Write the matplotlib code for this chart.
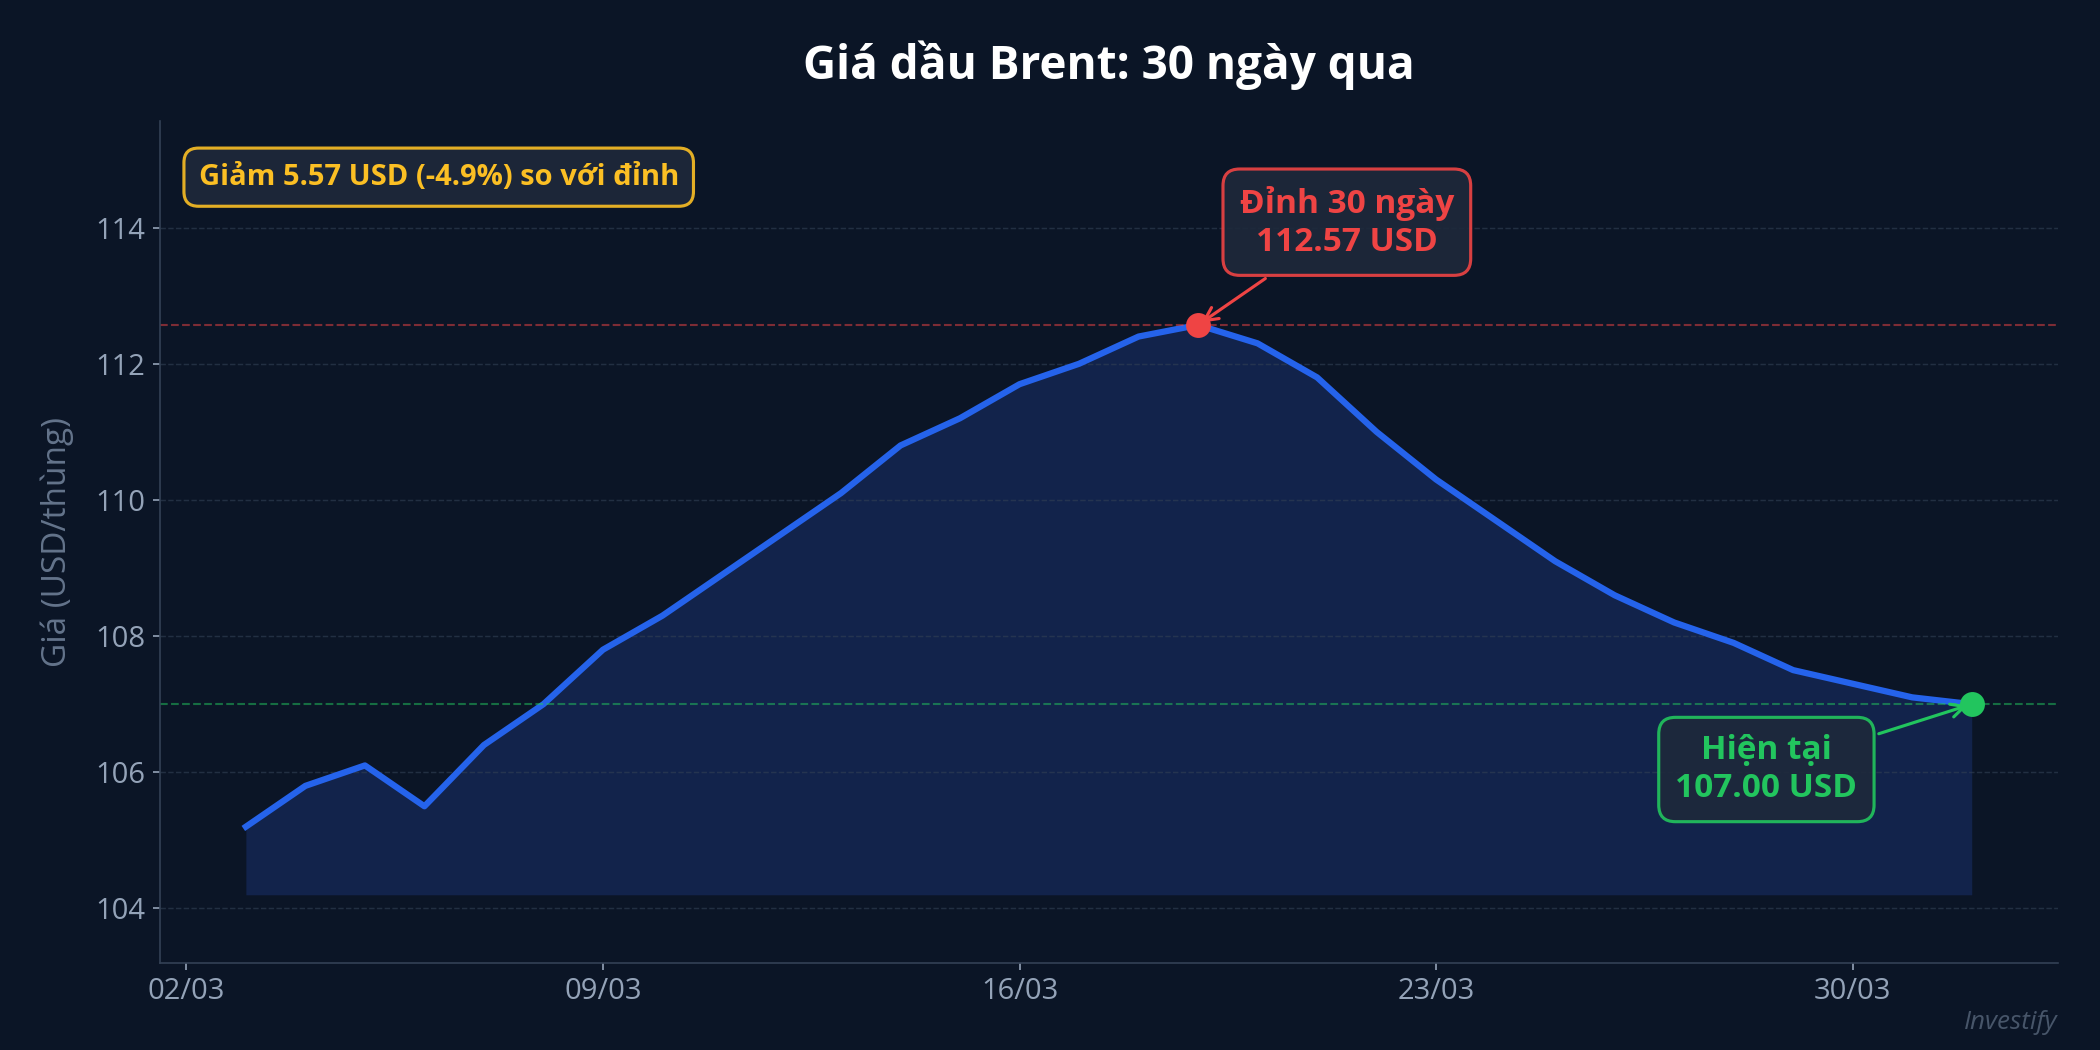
import numpy as np
import pandas as pd
import matplotlib
matplotlib.use("Agg")
import matplotlib.pyplot as plt
import matplotlib.dates as mdates

plt.rcParams['font.family'] = ['Open Sans', 'DejaVu Sans']

# daily Brent prices, 03/03 -> 01/04
dates = pd.date_range("2025-03-03", periods=30, freq="D")
prices = [105.2, 105.8, 106.1, 105.5, 106.4, 107.0, 107.8, 108.3, 108.9, 109.5,
          110.1, 110.8, 111.2, 111.7, 112.0, 112.4, 112.57, 112.3, 111.8, 111.0,
          110.3, 109.7, 109.1, 108.6, 108.2, 107.9, 107.5, 107.3, 107.1, 107.0]
tick_dates = pd.to_datetime(["2025-03-02", "2025-03-09", "2025-03-16", "2025-03-23", "2025-03-30"])

title = "Giá dầu Brent: 30 ngày qua"
ylabel = "Giá (USD/thùng)"
peak_label = "Đỉnh 30 ngày\n112.57 USD"
now_label = "Hiện tại\n107.00 USD"
drop_label = "Giảm 5.57 USD (-4.9%) so với đỉnh"

bg = "#0b1526"
line_col = "#2563eb"
red = "#ef4444"
green = "#22c55e"
yellow = "#fbbf24"
box_bg = "#1e293b"
tick_col = "#94a3b8"

fig, ax = plt.subplots(figsize=(14, 7), dpi=150)
fig.patch.set_facecolor(bg)
ax.set_facecolor(bg)

pmin = min(prices)
pmax = max(prices)
imax = int(np.argmax(prices))

ax.fill_between(dates, prices, pmin - 1, color="#1e3a8a", alpha=0.38, lw=0)
ax.plot(dates, prices, color=line_col, lw=3)

ax.axhline(pmax, color=red, ls="--", lw=1, alpha=0.5)
ax.axhline(prices[-1], color=green, ls="--", lw=1, alpha=0.5)

ax.scatter([dates[imax]], [pmax], s=120, color=red, zorder=5)
ax.scatter([dates[-1]], [prices[-1]], s=120, color=green, zorder=5)

ax.annotate(peak_label, xy=(dates[imax], pmax), xytext=(dates[imax] + pd.Timedelta(days=2.5), 114.08),
            ha="center", va="center", fontsize=16, fontweight="bold", color=red,
            bbox=dict(boxstyle="round,pad=0.5", fc=box_bg, ec=red, lw=1.5, alpha=0.9),
            arrowprops=dict(arrowstyle="->", color=red, lw=1.5))
ax.annotate(now_label, xy=(dates[-1], prices[-1]), xytext=(dates[-1] - pd.Timedelta(days=3.45), 106.04),
            ha="center", va="center", fontsize=16, fontweight="bold", color=green,
            bbox=dict(boxstyle="round,pad=0.5", fc=box_bg, ec=green, lw=1.5, alpha=0.9),
            arrowprops=dict(arrowstyle="->", color=green, lw=1.5))

ax.text(0.0205, 0.933, drop_label, transform=ax.transAxes, fontsize=14, fontweight="bold",
        color=yellow, va="center", ha="left",
        bbox=dict(boxstyle="round,pad=0.5", fc=box_bg, ec=yellow, lw=1.5, alpha=0.9))

ax.set_ylim(pmin - 2, pmax + 3)
ax.set_xticks(tick_dates)
ax.xaxis.set_major_formatter(mdates.DateFormatter("%d/%m"))

ax.set_title(title, fontsize=22, fontweight="bold", color="white", pad=20)
ax.set_ylabel(ylabel, fontsize=16, color="#64748b", labelpad=10)
ax.tick_params(colors=tick_col, labelsize=14)
ax.grid(axis="y", color="#334155", ls="--", lw=0.7, alpha=0.6)
for s in ["top", "right"]:
    ax.spines[s].set_visible(False)
for s in ["left", "bottom"]:
    ax.spines[s].set_color("#334155")

fig.text(0.98, 0.014, "Investify", fontsize=12.5, style="italic", color="#475569", ha="right", va="bottom")

fig.subplots_adjust(left=0.076, right=0.98, top=0.885, bottom=0.083)
plt.savefig("out.png", dpi=150, facecolor=bg)
